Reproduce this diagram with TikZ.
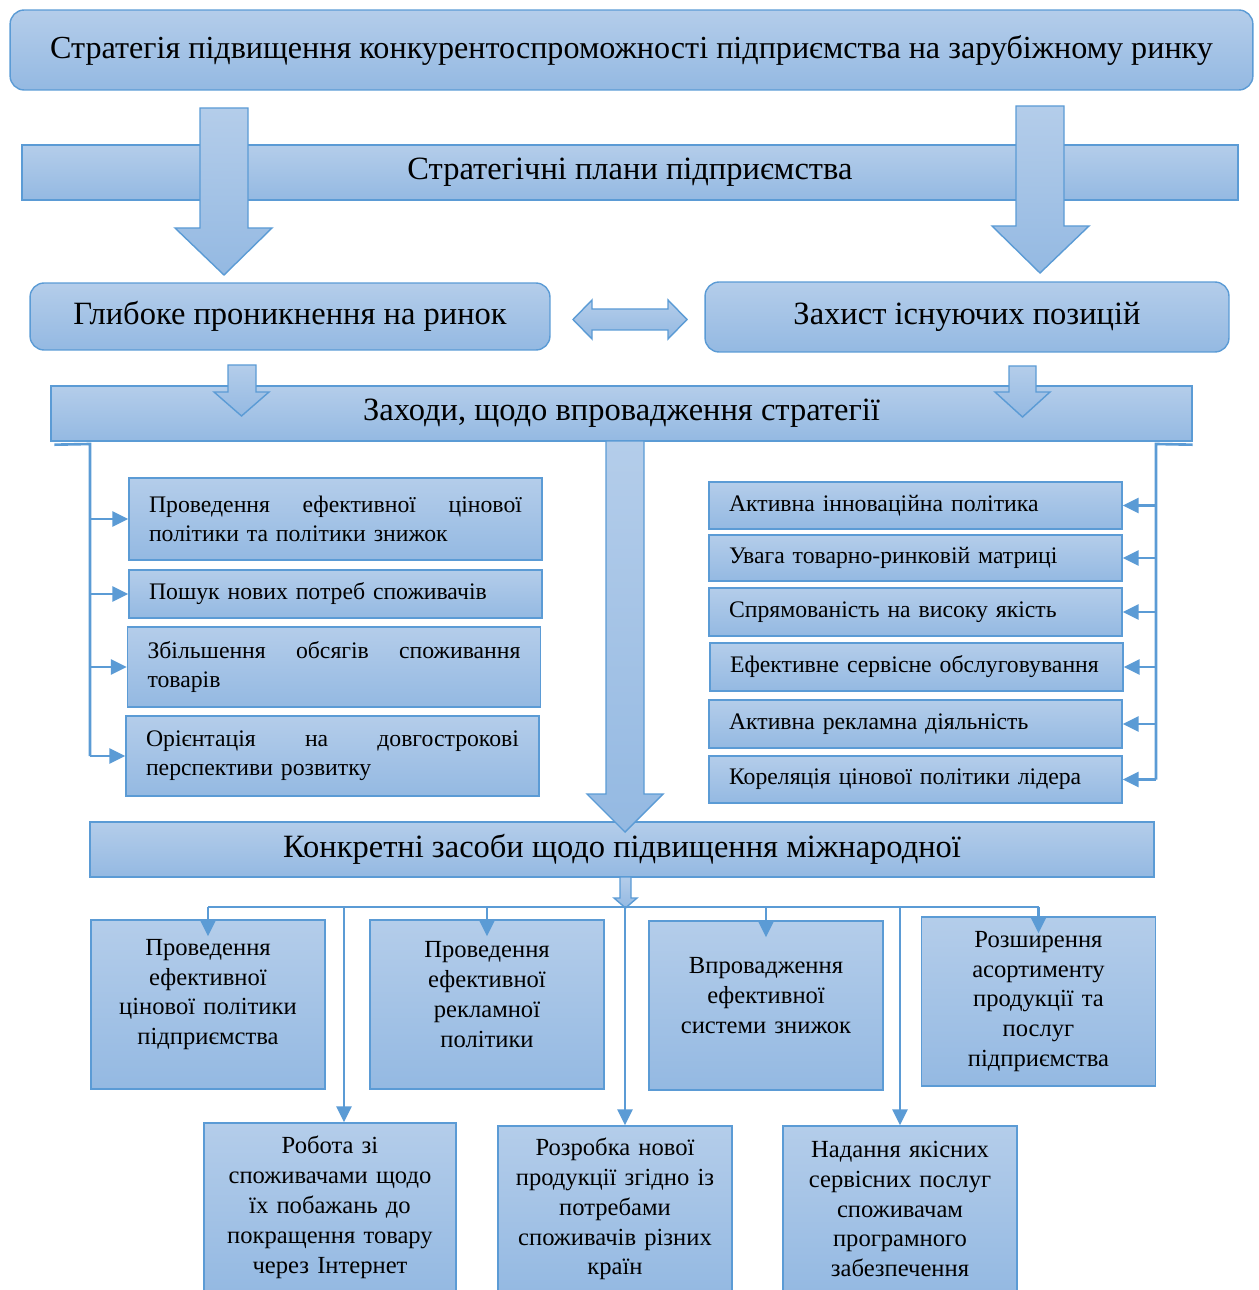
\documentclass[tikz,border=0pt]{standalone}
\usepackage{fontspec}
\setmainfont{Liberation Serif}
\usetikzlibrary{arrows.meta}
\definecolor{boxtop}{RGB}{180,205,234}
\definecolor{boxbot}{RGB}{148,185,226}
\definecolor{lineblue}{RGB}{91,155,213}
\begin{document}
\begin{tikzpicture}[x=0.02cm, y=-0.02cm, >={Triangle[length=0.32cm,width=0.3cm]},
    box/.style={draw=lineblue, line width=0.8pt, top color=boxtop, bottom color=boxbot, inner sep=0pt},
    rbox/.style={box, rounded corners=8pt},
    bigtxt/.style={font=\fontsize{18.5pt}{22pt}\selectfont},
    listbox/.style={box, minimum width=8.26cm, text width=7.46cm, align=left, font=\fontsize{13.5pt}{16.5pt}\selectfont},
    sqtxt/.style={text width=4.3cm, align=center, font=\fontsize{14pt}{17pt}\selectfont},
    sqbox/.style={box, minimum width=4.68cm, minimum height=3.38cm, sqtxt},
    blockarrow/.style={draw=lineblue, line width=0.8pt, top color=boxtop, bottom color=boxbot},
    conn/.style={draw=lineblue, line width=1.5pt}]
    \useasboundingbox (0,0) rectangle (1258,1290);

    \node[rbox, font=\fontsize{18.3pt}{22pt}\selectfont, minimum width=24.86cm, minimum height=1.6cm] (title) at (631.5,50) {Стратегія підвищення конкурентоспроможності підприємства на зарубіжному ринку};
    \node[box, bigtxt, minimum width=24.32cm, minimum height=1.1cm] (plans) at (630,172.5) {Стратегічні плани підприємства};
    \draw[blockarrow] (200,108) -- (248,108) -- (248,228) -- (272,228) -- (224,275) -- (175,228) -- (200,228) -- cycle;
    \draw[blockarrow] (1016,106) -- (1064,106) -- (1064,226) -- (1089,226) -- (1040,273) -- (992,226) -- (1016,226) -- cycle;

    \node[rbox, bigtxt, minimum width=10.4cm, minimum height=1.34cm] (deep) at (290,316.5) {Глибоке проникнення на ринок};
    \node[rbox, bigtxt, minimum width=10.48cm, minimum height=1.4cm] (defend) at (967,317) {Захист існуючих позицій};
    \draw[blockarrow] (573,319.5) -- (592,300) -- (592,309) -- (668,309) -- (668,300) -- (687,319.5)
        -- (668,339) -- (668,330) -- (592,330) -- (592,339) -- cycle;

    \node[box, bigtxt, minimum width=22.82cm, minimum height=1.1cm] (zah) at (621.5,413.5) {Заходи, щодо впровадження стратегії};
    \draw[blockarrow] (228,365) -- (256,365) -- (256,392) -- (269,392) -- (241.5,416) -- (214,392) -- (228,392) -- cycle;
    \draw[blockarrow] (1009,366) -- (1036,366) -- (1036,392) -- (1050,392) -- (1022.5,417) -- (995,392) -- (1009,392) -- cycle;

    \node[listbox, minimum height=1.64cm] (l1) at (335.5,519) {Проведення\hfill ефективної\hfill цінової\\політики та політики знижок};
    \node[listbox, minimum height=0.96cm] (l2) at (335.5,594) {Пошук нових потреб споживачів};
    \node[listbox, minimum height=1.6cm] (l3) at (334,667) {Збільшення\hfill обсягів\hfill споживання\\товарів};
    \node[listbox, minimum height=1.6cm] (l4) at (332.5,756) {Орієнтація\hfill на\hfill довгострокові\\перспективи розвитку};

    \node[listbox, minimum height=0.94cm] (r1) at (915.5,505.5) {Активна інноваційна політика};
    \node[listbox, minimum height=0.92cm] (r2) at (915.5,558) {Увага товарно-ринковій матриці};
    \node[listbox, minimum height=0.96cm] (r3) at (915.5,612) {Спрямованість на високу якість};
    \node[listbox, minimum height=0.96cm] (r4) at (916.5,667) {Ефективне сервісне обслуговування};
    \node[listbox, minimum height=0.96cm] (r5) at (915.5,724) {Активна рекламна діяльність};
    \node[listbox, minimum height=0.94cm] (r6) at (915.5,779.5) {Кореляція цінової політики лідера};

    \coordinate (lsplit) at (90,444);
    \draw[conn] ([xshift=0.08cm,yshift=-0.06cm]zah.south west) -- (lsplit) -- (lsplit |- l4.west);
    \foreach \n in {l1,l2,l3,l4}
        \draw[conn,->] (lsplit |- \n.west) -- (\n.west);
    \coordinate (rsplit) at (1156,444);
    \draw[conn] ([yshift=-0.06cm]zah.south east) -- (rsplit) -- (rsplit |- r6.east);
    \foreach \n in {r1,r2,r3,r4,r5,r6}
        \draw[conn,->] (rsplit |- \n.east) -- (\n.east);

    \node[box, bigtxt, minimum width=21.28cm, minimum height=1.1cm] (konk) at (622,849.5) {Конкретні засоби щодо підвищення міжнародної};
    \draw[blockarrow] (606,441) -- (644,441) -- (644,794) -- (663,794) -- (625,832) -- (587,794) -- (606,794) -- cycle;
    \draw[blockarrow] (620,877) -- (631,877) -- (631,898) -- (637,898) -- (625.5,908) -- (614,898) -- (620,898) -- cycle;

    \node[sqbox] (t1) at (208,1004.5) {};
    \node[sqtxt] (t1txt) at ([yshift=0.2cm]t1.center) {Проведення\\ефективної\\цінової політики\\підприємства};
    \node[sqbox] (t2) at (487,1004.5) {};
    \node[sqtxt] (t2txt) at ([yshift=0.2cm]t2.center) {Проведення\\ефективної\\рекламної\\політики};
    \node[sqbox] (t3) at (766,1005.5) {};
    \node[sqtxt] (t3txt) at ([yshift=0.2cm]t3.center) {Впровадження\\ефективної\\системи знижок};
    \node[sqbox] (t4) at (1038.5,1001.5) {Розширення\\асортименту\\продукції та\\послуг\\підприємства};

    \node[sqbox, minimum width=5.04cm] (b1) at (330,1207.5) {Робота зі\\споживачами щодо\\їх побажань до\\покращення товару\\через Інтернет};
    \node[sqbox, minimum height=3.32cm] (b2) at (615,1209) {Розробка нової\\продукції згідно із\\потребами\\споживачів різних\\країн};
    \node[sqbox, minimum height=3.32cm] (b3) at (900,1209) {Надання якісних\\сервісних послуг\\споживачам\\програмного\\забезпечення};

    \coordinate (hsplit) at (625,907);
    \draw[conn] (t1.north |- hsplit) -- (t4.north |- hsplit);
    \foreach \n in {t1,t2,t3,t4}
        \draw[conn,->] (\n.north |- hsplit) -- ([yshift=-0.34cm]\n.north);
    \draw[conn,->] ([xshift=0.28cm]b1.north |- hsplit) -- ([xshift=0.28cm]b1.north);
    \draw[conn,->] ([xshift=0.2cm]b2.north |- hsplit) -- ([xshift=0.2cm]b2.north);
    \draw[conn,->] (b3.north |- hsplit) -- (b3.north);
\end{tikzpicture}
\end{document}
